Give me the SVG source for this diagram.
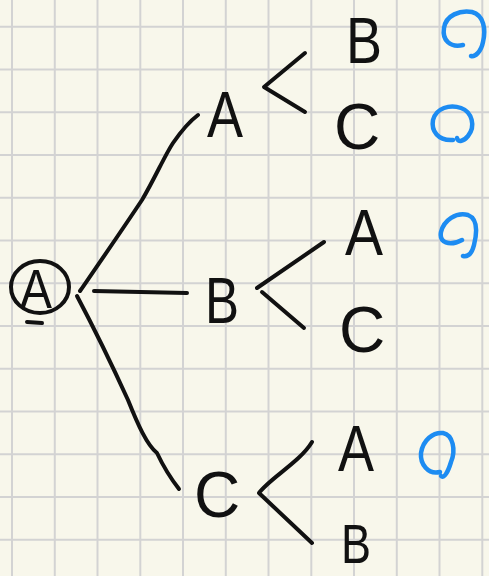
<svg xmlns="http://www.w3.org/2000/svg" width="489" height="576" viewBox="0 0 489 576">
<defs>
<style>
.grid line{stroke:#d3d3d3;stroke-width:2}
.lt{font-family:"Liberation Sans",Arial,sans-serif;font-size:64px;fill:#111;text-anchor:middle}
.ink{fill:none;stroke:#111;stroke-width:4;stroke-linecap:round;stroke-linejoin:round}
.mark{fill:none;stroke:#1d8cf2;stroke-width:4.5;stroke-linecap:round;stroke-linejoin:round}
</style>
</defs>
<rect width="489" height="576" fill="#f8f7eb"/>
<g class="grid">
<line x1="12" y1="0" x2="12" y2="576"/>
<line x1="54.8" y1="0" x2="54.8" y2="576"/>
<line x1="97.5" y1="0" x2="97.5" y2="576"/>
<line x1="140.3" y1="0" x2="140.3" y2="576"/>
<line x1="183" y1="0" x2="183" y2="576"/>
<line x1="225.8" y1="0" x2="225.8" y2="576"/>
<line x1="268.5" y1="0" x2="268.5" y2="576"/>
<line x1="311.3" y1="0" x2="311.3" y2="576"/>
<line x1="354" y1="0" x2="354" y2="576"/>
<line x1="396.8" y1="0" x2="396.8" y2="576"/>
<line x1="439.5" y1="0" x2="439.5" y2="576"/>
<line x1="482.3" y1="0" x2="482.3" y2="576"/>
<line x1="0" y1="26.7" x2="489" y2="26.7"/>
<line x1="0" y1="69.5" x2="489" y2="69.5"/>
<line x1="0" y1="112.2" x2="489" y2="112.2"/>
<line x1="0" y1="155" x2="489" y2="155"/>
<line x1="0" y1="197.7" x2="489" y2="197.7"/>
<line x1="0" y1="240.5" x2="489" y2="240.5"/>
<line x1="0" y1="283.2" x2="489" y2="283.2"/>
<line x1="0" y1="326" x2="489" y2="326"/>
<line x1="0" y1="368.7" x2="489" y2="368.7"/>
<line x1="0" y1="411.5" x2="489" y2="411.5"/>
<line x1="0" y1="454.2" x2="489" y2="454.2"/>
<line x1="0" y1="497" x2="489" y2="497"/>
<line x1="0" y1="539.7" x2="489" y2="539.7"/>
</g>
<g id="connectors" class="ink">
<path d="M80 291 C100 262 118 236 142 200 C155 178 165 155 173 143 C182 130 190 121 198 115"/>
<path d="M94 291 L187 293"/>
<path d="M77 296 C95 330 112 365 128 400 C138 425 147 445 157 453 C165 470 172 480 179 489"/>
<path d="M305 53 L264 87 L305 112"/>
<path d="M324 242 L257 288"/>
<path d="M262 292 L304 328"/>
<path d="M312 442 C300 462 270 478 259 493 L312 543"/>
</g>
<g id="root">
<ellipse cx="40" cy="287" rx="29" ry="26" class="ink"/>
<path d="M27 322 L42 323" class="ink"/>
<text x="36" y="308" class="lt" style="font-size:56px" textLength="32" lengthAdjust="spacingAndGlyphs">A</text>
</g>
<g id="n-A"><text x="225" y="137" class="lt" textLength="36" lengthAdjust="spacingAndGlyphs">A</text></g>
<g id="n-B"><text x="222" y="323" class="lt" textLength="34" lengthAdjust="spacingAndGlyphs">B</text></g>
<g id="n-C"><text x="217" y="517" class="lt">C</text></g>
<g id="n-AB"><text x="364" y="63" class="lt" textLength="36" lengthAdjust="spacingAndGlyphs">B</text></g>
<g id="n-AC"><text x="357" y="149" class="lt">C</text></g>
<g id="n-BA"><text x="364" y="255" class="lt" textLength="38" lengthAdjust="spacingAndGlyphs">A</text></g>
<g id="n-BC"><text x="362" y="352" class="lt">C</text></g>
<g id="n-CA"><text x="356" y="471" class="lt" textLength="36" lengthAdjust="spacingAndGlyphs">A</text></g>
<g id="n-CB"><text x="356" y="563" class="lt" style="font-size:56px" textLength="30" lengthAdjust="spacingAndGlyphs">B</text></g>
<g id="marks" class="mark">
<path d="M463 45 C450 48 442 40 444 28 C446 15 460 10 472 12 C484 15 486 30 483 42 C481 52 475 57 471 56"/>
<path d="M453 140 C438 141 431 131 433 120 C436 108 450 104 461 108 C472 112 476 126 468 136 C464 141 458 143 457 138"/>
<path d="M462 240 C449 247 439 242 441 232 C444 220 456 212 468 215 C478 219 477 233 474 245 C472 253 468 257 463 256"/>
<path d="M440 472 C428 475 420 464 421 453 C423 440 433 432 443 433 C453 435 456 450 451 462 C448 472 444 479 441 476"/>
</g>
</svg>
